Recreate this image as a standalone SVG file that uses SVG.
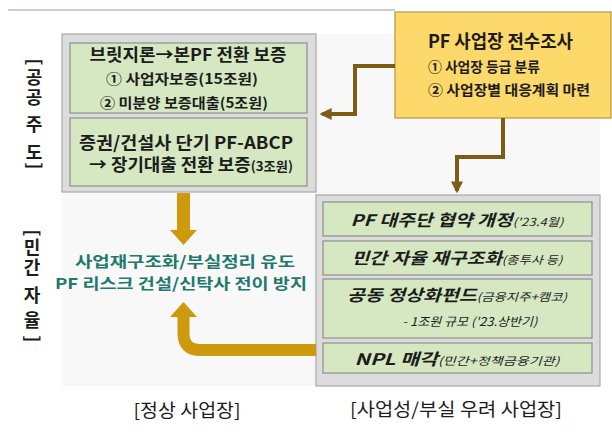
<svg xmlns="http://www.w3.org/2000/svg" width="612" height="432" viewBox="0 0 612 432">
<defs>
<style>
text{font-family:"Noto Sans CJK KR","Liberation Sans",sans-serif;fill:#1c1c1c;font-weight:bold}
.c{text-anchor:middle}
.gbox{fill:#d5e8c2;stroke:#8e8e8e;stroke-width:1.2}
.panel{fill:#dcdcdc;stroke:#a9a9a9;stroke-width:1.2}
.teal{fill:#22786c;font-size:15px}
.it{font-style:italic}
.sm{font-size:11px;font-weight:normal}
.nw{font-weight:normal}
.conn{fill:none;stroke:#7d5c16;stroke-width:4}
.gold{fill:#cc9a0c}
.lab{font-size:18px;font-weight:normal}
.vl{font-size:18px;text-anchor:middle}
</style>
<marker id="ah" viewBox="0 0 10 10" refX="8" refY="5" markerWidth="3" markerHeight="3" orient="auto" markerUnits="strokeWidth">
<path d="M0,0 L10,5 L0,10 z" fill="#7d5c16"/>
</marker>
</defs>
<rect width="612" height="432" fill="#ffffff"/>
<line x1="8" y1="10" x2="395" y2="10" stroke="#b3bfcd" stroke-width="1.5"/>
<rect x="62" y="34" width="538" height="352" fill="#f8f8f8"/>

<g id="side-labels">
<text class="vl" transform="rotate(90 34 62)" x="34" y="68">[</text>
<text class="vl"><tspan x="34" y="84">공</tspan><tspan x="34" y="104">공</tspan><tspan x="34" y="131">주</tspan><tspan x="34" y="159">도</tspan></text>
<text class="vl" transform="rotate(90 34 166)" x="34" y="172">]</text>
<text class="vl" transform="rotate(90 32 233)" x="32" y="239">[</text>
<text class="vl"><tspan x="32" y="254">민</tspan><tspan x="32" y="274">간</tspan><tspan x="32" y="302">자</tspan><tspan x="32" y="327">율</tspan></text>
<text class="vl" transform="rotate(90 32 339)" x="32" y="345">]</text>
</g>

<g id="public-panel">
<rect class="panel" x="62" y="34" width="254" height="158"/>
</g>
<g id="bridge-guarantee">
<rect class="gbox" x="70" y="43" width="237" height="70"/>
<text class="c" x="188" y="61" font-size="17" textLength="197" lengthAdjust="spacingAndGlyphs">브릿지론→본PF 전환 보증</text>
<text class="c" x="182" y="84" font-size="14" textLength="152" lengthAdjust="spacingAndGlyphs">① 사업자보증(15조원)</text>
<text class="c" x="184" y="108" font-size="14" textLength="168" lengthAdjust="spacingAndGlyphs">② 미분양 보증대출(5조원)</text>
</g>
<g id="abcp-guarantee">
<rect class="gbox" x="70" y="118" width="237" height="68"/>
<text class="c" font-size="17.5"><tspan x="186" y="149" textLength="214" lengthAdjust="spacingAndGlyphs">증권/건설사 단기 PF-ABCP</tspan><tspan x="191" y="171" textLength="204" lengthAdjust="spacingAndGlyphs">→ 장기대출 전환 보증<tspan font-size="13">(3조원)</tspan></tspan></text>
</g>

<g id="survey">
<rect x="395" y="12" width="216" height="106" fill="#fdd86a" stroke="#b8973a" stroke-width="1.2"/>
<text x="428" y="48" font-size="18" textLength="145" lengthAdjust="spacingAndGlyphs">PF 사업장 전수조사</text>
<text x="428" y="72" font-size="14" textLength="112" lengthAdjust="spacingAndGlyphs">① 사업장 등급 분류</text>
<text x="428" y="95" font-size="14" textLength="162" lengthAdjust="spacingAndGlyphs">② 사업장별 대응계획 마련</text>
</g>

<g id="normal-result">
<text class="c teal" x="185" y="267" textLength="220" lengthAdjust="spacingAndGlyphs">사업재구조화/부실정리 유도</text>
<text class="c teal" x="181" y="289" textLength="252" lengthAdjust="spacingAndGlyphs">PF 리스크 건설/신탁사 전이 방지</text>
</g>

<g id="risk-panel">
<rect class="panel" x="316" y="195" width="284" height="191"/>
</g>
<g id="creditor-agreement">
<rect class="gbox" x="323" y="202" width="269" height="34"/>
<text class="c it" x="457" y="226" font-size="16" textLength="213" lengthAdjust="spacingAndGlyphs">PF 대주단 협약 개정<tspan class="sm">('23.4월)</tspan></text>
</g>
<g id="private-restructuring">
<rect class="gbox" x="323" y="241" width="269" height="34"/>
<text class="c it" x="457" y="264" font-size="16" textLength="211" lengthAdjust="spacingAndGlyphs">민간 자율 재구조화<tspan class="sm">(종투사 등)</tspan></text>
</g>
<g id="normalization-fund">
<rect class="gbox" x="323" y="279" width="269" height="59"/>
<text class="c it" x="457" y="301" font-size="16" textLength="220" lengthAdjust="spacingAndGlyphs">공동 정상화펀드<tspan class="sm">(금융지주+캠코)</tspan></text>
<text class="c it nw" x="470" y="326" font-size="12" textLength="135" lengthAdjust="spacingAndGlyphs">- 1조원 규모 ('23.상반기)</text>
</g>
<g id="npl-sale">
<rect class="gbox" x="323" y="343" width="269" height="30"/>
<text class="c it" x="457" y="365" font-size="16" textLength="205" lengthAdjust="spacingAndGlyphs">NPL 매각<tspan class="sm">(민간+정책금융기관)</tspan></text>
</g>

<g id="bottom-labels">
<text class="c lab" x="187" y="417" textLength="107" lengthAdjust="spacingAndGlyphs">[정상 사업장]</text>
<text class="c lab" x="456" y="416" textLength="212" lengthAdjust="spacingAndGlyphs">[사업성/부실 우려 사업장]</text>
</g>

<g id="connectors">
<path class="conn" d="M395,66 H355 V114 H322" marker-end="url(#ah)"/>
<path class="conn" d="M503,118 V157 H457 V191" marker-end="url(#ah)"/>
<path class="gold" d="M177,193 H190 V230 H197 L183.5,245 L170,230 H177 Z"/>
<path d="M316,350 H200 Q183.5,350 183.5,333 V316" fill="none" stroke="#cc9a0c" stroke-width="12"/>
<path class="gold" d="M170,317 L197,317 L183.5,302 Z"/>
</g>
</svg>
